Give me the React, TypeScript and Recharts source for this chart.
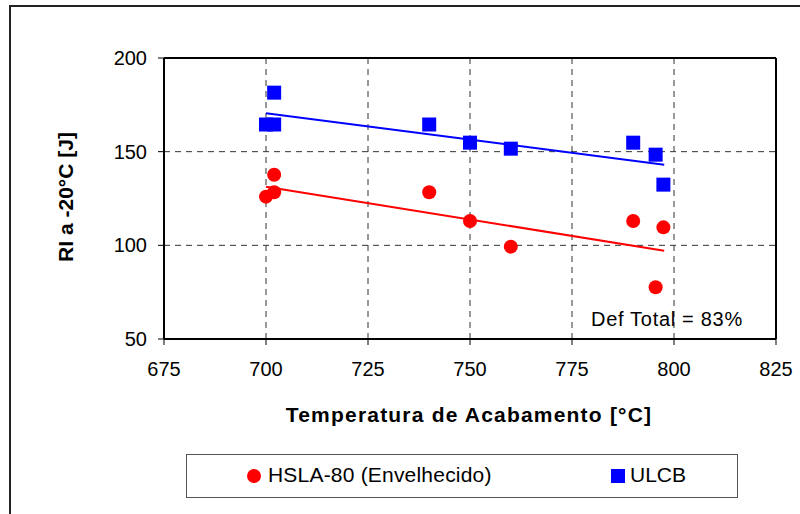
import React from "react";
import {
  ComposedChart,
  Scatter,
  XAxis,
  YAxis,
  CartesianGrid,
  ReferenceLine,
  Legend,
} from "recharts";

// HSLA-80 (Envelhecido)
const hslaTemp = [700, 702, 702, 740, 750, 760, 790, 797.4, 795.5];
const hslaRI = [126, 128.3, 137.7, 128.3, 113, 99.3, 113, 109.6, 77.6];
// ULCB
const ulcbTemp = [700, 702, 702, 740, 750, 760, 790, 795.5, 797.4];
const ulcbRI = [164.5, 164.5, 181.5, 164.5, 154.8, 151.6, 154.8, 148.4, 132.4];
// linear trend lines (end points)
const hslaTrendTemp = [700, 797.6];
const hslaTrendRI = [131.3, 97.1];
const ulcbTrendTemp = [700, 797.6];
const ulcbTrendRI = [170.5, 143.0];

const xTicks = [675, 700, 725, 750, 775, 800, 825];
const yTicks = [50, 100, 150, 200];

const seriesNames = ["HSLA-80 (Envelhecido)", "ULCB"];
const xTitle = "Temperatura de Acabamento [°C]";
const yTitle = "RI a -20°C [J]";
const note = "Def Total = 83%";

const hslaData = hslaTemp.map((t, i) => ({ x: t, y: hslaRI[i] }));
const ulcbData = ulcbTemp.map((t, i) => ({ x: t, y: ulcbRI[i] }));

const FONT = "'Liberation Sans', Arial, sans-serif";
const RED = "#FF0000";
const BLUE = "#0000FF";

const RedDot = (p: any) => <circle cx={p.cx} cy={p.cy} r={7} fill={RED} />;
const BlueSquare = (p: any) => (
  <rect x={p.cx - 7} y={p.cy - 7} width={14} height={14} fill={BLUE} />
);

const LegendBox = (props: any) => {
  const payload = props.payload || [];
  return (
    <div
      style={{
        position: "relative",
        width: 552,
        height: 44,
        border: "1.5px solid #555",
        boxSizing: "border-box",
        fontFamily: FONT,
        fontSize: 21,
        color: "#000",
        background: "#fff",
      }}
    >
      {payload.map((entry: any, i: number) => {
        const isFirst = entry.value === seriesNames[0];
        const iconLeft = isFirst ? 59 : 423;
        const textLeft = isFirst ? 81 : 443;
        return (
          <React.Fragment key={i}>
            <svg
              width={16}
              height={16}
              style={{ position: "absolute", left: iconLeft, top: 13 }}
            >
              {isFirst ? (
                <circle cx={8} cy={8} r={7} fill={RED} />
              ) : (
                <rect x={1} y={1} width={14} height={14} fill={BLUE} />
              )}
            </svg>
            <span
              style={{
                position: "absolute",
                left: textLeft,
                top: 8,
                lineHeight: "24px",
                whiteSpace: "nowrap",
                letterSpacing: isFirst ? 0.2 : 0,
              }}
            >
              {entry.value}
            </span>
          </React.Fragment>
        );
      })}
    </div>
  );
};

export default function App() {
  return (
    <div
      style={{
        position: "absolute",
        left: 0,
        top: 0,
        width: 800,
        height: 514,
        overflow: "hidden",
        background: "#fff",
      }}
    >
      <div
        style={{
          position: "absolute",
          left: 9,
          top: 5,
          width: 820,
          height: 540,
          border: "2px solid #222",
          boxSizing: "border-box",
        }}
      />
      <div style={{ position: "absolute", left: 0, top: 0 }}>
        <ComposedChart
          width={800}
          height={514}
          margin={{ top: 58, right: 24, left: 104, bottom: 145 }}
        >
          <CartesianGrid
            stroke="#333"
            strokeDasharray="6 5"
            strokeWidth={1}
            horizontalValues={yTicks}
            verticalValues={xTicks}
          />
          <XAxis
            type="number"
            dataKey="x"
            domain={[675, 825]}
            ticks={xTicks}
            allowDataOverflow
            height={30}
            tickSize={6}
            tickMargin={17}
            axisLine={{ stroke: "#000", strokeWidth: 2 }}
            tickLine={{ stroke: "#000", strokeWidth: 1 }}
            tick={{ fill: "#000", fontSize: 20, fontFamily: FONT }}
          />
          <YAxis
            type="number"
            dataKey="y"
            domain={[50, 200]}
            ticks={yTicks}
            allowDataOverflow
            width={60}
            tickSize={6}
            tickMargin={11}
            axisLine={{ stroke: "#000", strokeWidth: 2 }}
            tickLine={{ stroke: "#000", strokeWidth: 1 }}
            tick={{ fill: "#000", fontSize: 20, fontFamily: FONT }}
          />
          <ReferenceLine y={200} stroke="#000" strokeWidth={2} ifOverflow="visible" />
          <ReferenceLine x={825} stroke="#000" strokeWidth={2} ifOverflow="visible" />
          <ReferenceLine
            segment={[
              { x: hslaTrendTemp[0], y: hslaTrendRI[0] },
              { x: hslaTrendTemp[1], y: hslaTrendRI[1] },
            ]}
            stroke={RED}
            strokeWidth={2}
            ifOverflow="visible"
          />
          <ReferenceLine
            segment={[
              { x: ulcbTrendTemp[0], y: ulcbTrendRI[0] },
              { x: ulcbTrendTemp[1], y: ulcbTrendRI[1] },
            ]}
            stroke={BLUE}
            strokeWidth={2}
            ifOverflow="visible"
          />
          <Scatter
            name={seriesNames[0]}
            data={hslaData}
            fill={RED}
            shape={RedDot}
            isAnimationActive={false}
          />
          <Scatter
            name={seriesNames[1]}
            data={ulcbData}
            fill={BLUE}
            shape={BlueSquare}
            isAnimationActive={false}
          />
          <Legend
            layout="horizontal"
            verticalAlign="middle"
            align="center"
            content={LegendBox}
            wrapperStyle={{ position: "absolute", left: 186, top: 454, width: 552, height: 44 }}
          />
        </ComposedChart>
      </div>
      <svg
        width={800}
        height={514}
        style={{ position: "absolute", left: 0, top: 0, pointerEvents: "none" }}
      >
        <text
          x={469}
          y={422}
          textAnchor="middle"
          fontFamily={FONT}
          fontWeight="bold"
          fontSize={21}
          letterSpacing={1.2}
          fill="#000"
        >
          {xTitle}
        </text>
        <text
          x={73}
          y={197}
          textAnchor="middle"
          fontFamily={FONT}
          fontWeight="bold"
          fontSize={21}
          fill="#000"
          transform="rotate(-90 73 197)"
        >
          {yTitle}
        </text>
        <text
          x={591}
          y={326}
          fontFamily={FONT}
          fontSize={20}
          letterSpacing={0.7}
          fill="#000"
        >
          {note}
        </text>
      </svg>
    </div>
  );
}
